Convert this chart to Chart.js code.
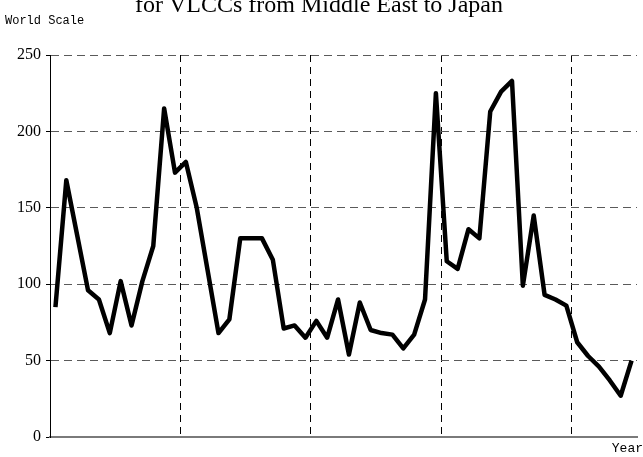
<!DOCTYPE html>
<html>
<head>
<meta charset="utf-8">
<script src="https://cdn.jsdelivr.net/npm/chart.js@4.4.1/dist/chart.umd.min.js"></script>
<style>
    html, body { margin: 0; padding: 0; background: #fff; overflow: hidden; }
    #wrap { position: relative; width: 643px; height: 457px; }
</style>
</head>
<body>
<div id="wrap"><canvas id="rate-chart"></canvas></div>
<script>
// Datos (World Scale, periodos consecutivos)
const periods = [
    1, 2, 3, 4, 5, 6, 7, 8, 9, 10, 11, 12,
    13, 14, 15, 16, 17, 18, 19, 20, 21, 22, 23, 24,
    25, 26, 27, 28, 29, 30, 31, 32, 33, 34, 35, 36,
    37, 38, 39, 40, 41, 42, 43, 44, 45, 46, 47, 48,
    49, 50, 51, 52, 53, 54
];
const freightRates = [
    85, 168, 132, 96, 90, 68, 102, 73, 102, 125, 215, 173,
    180, 150, 109, 68, 77, 130, 130, 130, 116, 71, 73, 65,
    76, 65, 90, 54, 88, 70, 68, 67, 58, 67, 90, 225,
    115, 110, 136, 130, 213, 226, 233, 99, 145, 93, 90, 86,
    62, 53, 46, 37, 27, 50
];
const yTicks = [0, 50, 100, 150, 200, 250];
const yearBreaks = [12, 24, 36, 48];

const titleText = 'for VLCCs from Middle East to Japan';
const yAxisText = 'World Scale';
const xAxisText = 'Year';

// Textos fuera del área del gráfico
const textPlugin = {
    id: 'textos',
    afterDraw(chart) {
        const ctx = chart.ctx;
        ctx.save();
        ctx.fillStyle = '#000';
        ctx.font = '24px "Liberation Serif", "Times New Roman", serif';
        ctx.textAlign = 'center';
        ctx.textBaseline = 'alphabetic';
        ctx.fillText(titleText, 319, 12);

        ctx.font = '12px "Liberation Mono", monospace';
        ctx.textAlign = 'left';
        ctx.textBaseline = 'middle';
        ctx.fillText(yAxisText, 5, 21);

        ctx.font = '13px "Liberation Mono", monospace';
        ctx.textAlign = 'right';
        ctx.fillText(xAxisText, 643, 449);
        ctx.restore();
    }
};

const rateChart = new Chart(document.getElementById('rate-chart'), {
    type: 'line',
    data: {
        labels: periods,
        datasets: [{
            label: 'World Scale',
            data: freightRates,
            borderColor: '#000',
            borderWidth: 4.5,
            borderJoinStyle: 'round',
            pointRadius: 0,
            tension: 0
        }]
    },
    options: {
        responsive: true,
        maintainAspectRatio: false,
        animation: false,
        layout: {
            padding: { top: 55, right: 6, bottom: 20, left: 0 }
        },
        plugins: {
            legend: { display: false },
            tooltip: { enabled: false }
        },
        scales: {
            x: {
                type: 'category',
                offset: true,
                grid: {
                    offset: true,
                    drawTicks: false,
                    lineWidth: 1,
                    color: (c) => yearBreaks.includes(c.index) ? '#000' : 'rgba(0,0,0,0)'
                },
                border: {
                    display: true,
                    color: '#7a7a7a',
                    width: 2,
                    dash: [7, 5]
                },
                ticks: { display: false, autoSkip: false }
            },
            y: {
                min: 0,
                max: 250,
                afterFit: (scale) => { scale.width = 50; },
                afterBuildTicks: (scale) => {
                    scale.ticks = yTicks.map(v => ({ value: v }));
                },
                grid: {
                    drawTicks: true,
                    tickLength: 4,
                    tickColor: '#000',
                    lineWidth: 1,
                    color: (c) => c.tick && c.tick.value === 0 ? 'rgba(0,0,0,0)' : '#5a5a5a'
                },
                border: {
                    display: true,
                    color: '#000',
                    width: 1,
                    dash: [8, 5]
                },
                ticks: {
                    color: '#000',
                    padding: 5,
                    font: { family: '"Liberation Serif", "Times New Roman", serif', size: 16 }
                }
            }
        }
    },
    plugins: [textPlugin]
});
</script>
</body>
</html>
